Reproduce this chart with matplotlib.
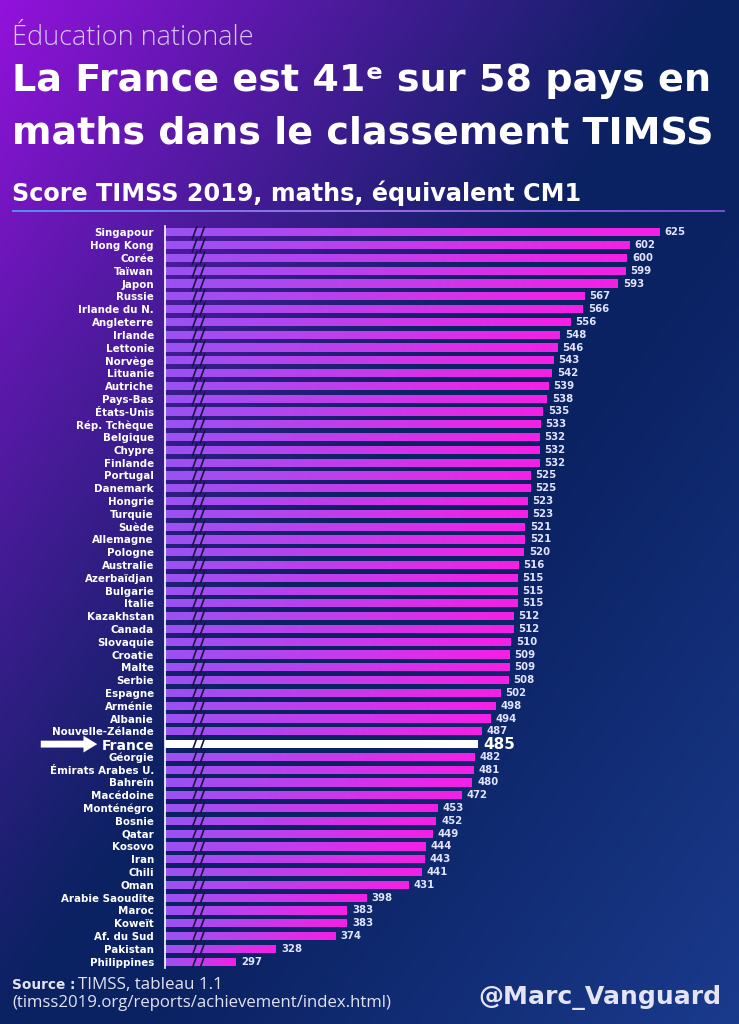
import numpy as np
import matplotlib.pyplot as plt
from matplotlib.colors import LinearSegmentedColormap, to_rgb

countries = ['Singapour', 'Hong Kong', 'Corée', 'Taïwan', 'Japon', 'Russie',
             'Irlande du N.', 'Angleterre', 'Irlande', 'Lettonie', 'Norvège',
             'Lituanie', 'Autriche', 'Pays-Bas', 'États-Unis', 'Rép. Tchèque',
             'Belgique', 'Chypre', 'Finlande', 'Portugal', 'Danemark', 'Hongrie',
             'Turquie', 'Suède', 'Allemagne', 'Pologne', 'Australie',
             'Azerbaïdjan', 'Bulgarie', 'Italie', 'Kazakhstan', 'Canada',
             'Slovaquie', 'Croatie', 'Malte', 'Serbie', 'Espagne', 'Arménie',
             'Albanie', 'Nouvelle-Zélande', 'France', 'Géorgie',
             'Émirats Arabes U.', 'Bahreïn', 'Macédoine', 'Monténégro', 'Bosnie',
             'Qatar', 'Kosovo', 'Iran', 'Chili', 'Oman', 'Arabie Saoudite',
             'Maroc', 'Koweït', 'Af. du Sud', 'Pakistan', 'Philippines']
scores = [625, 602, 600, 599, 593, 567, 566, 556, 548, 546, 543, 542, 539, 538,
          535, 533, 532, 532, 532, 525, 525, 523, 523, 521, 521, 520, 516, 515,
          515, 515, 512, 512, 510, 509, 509, 508, 502, 498, 494, 487, 485, 482,
          481, 480, 472, 453, 452, 449, 444, 443, 441, 431, 398, 383, 383, 374,
          328, 297]
highlight = 'France'

x0, x1 = 242, 687       # broken axis: bars start at x0
brk = [265, 271]        # position of the "//" marks

plt.rcParams['font.family'] = ['DejaVu Sans']

W, H = 739, 1024
fig = plt.figure(figsize=(W / 100, H / 100), dpi=100)
renderer = fig.canvas.get_renderer()


def fit(t, width_px):
    # scale a text so that it spans width_px pixels
    w = t.get_window_extent(renderer).width
    t.set_fontsize(t.get_fontsize() * width_px / w)
    return t


# background gradient
bg = fig.add_axes([0, 0, 1, 1])
bg.axis('off')
yy, xx = np.mgrid[0:1:300j, 0:1:220j]
p = np.clip(1 - (xx * 1.05 + yy * 1.0), 0, 1) ** 1.1
q = np.clip((xx + yy - 1.2) / 0.8, 0, 1)
navy = np.array(to_rgb('#0b2262'))
purple = np.array(to_rgb('#9312dc'))
blue = np.array(to_rgb('#1a3a8c'))
img = navy + p[..., None] * (purple - navy) + q[..., None] * (blue - navy)
bg.imshow(img, extent=[0, 1, 0, 1], aspect='auto', origin='upper')
# underline below subtitle
line_cm = LinearSegmentedColormap.from_list('ul', ['#4f8fe8', '#9a6ae6', '#7a4ad0'])
bg.imshow(np.linspace(0, 1, 200)[None, :], cmap=line_cm, aspect='auto',
          extent=[12 / W, 725 / W, 1 - 212 / H, 1 - 210 / H])
bg.set_xlim(0, 1)
bg.set_ylim(0, 1)

fit(fig.text(12 / W, 1 - 38 / H, 'Éducation nationale', fontsize=15,
             family=['Open Sans', 'DejaVu Sans'], fontweight='light',
             color='#d6c6f2', va='center', ha='left'), 243)
fit(fig.text(12 / W, 1 - 81 / H, 'La France est 41ᵉ sur 58 pays en', fontsize=30,
             fontweight='bold', color='white', va='center', ha='left'), 698)
fit(fig.text(12 / W, 1 - 134 / H, 'maths dans le classement TIMSS', fontsize=30,
             fontweight='bold', color='white', va='center', ha='left'), 700)
fit(fig.text(12 / W, 1 - 193 / H, 'Score TIMSS 2019, maths, équivalent CM1', fontsize=17,
             fontweight='bold', color='white', va='center', ha='left'), 570)

# bars
ax = fig.add_axes([165 / W, 1 - 968 / H, 1 - 165 / W, (968 - 226) / H])
ax.patch.set_alpha(0)
n = len(countries)
y = np.arange(n)
h = 0.64
bar_cm = LinearSegmentedColormap.from_list('bar', ['#9a52f2', '#c43cec', '#f51fe6'])
grad = np.linspace(0, 1, 100)[None, :]
vals = np.array(scores)
bars = ax.barh(y, vals - x0, left=x0, height=h, color='none', edgecolor='none')
for yi, s, c, b in zip(y, scores, countries, bars):
    if c == highlight:
        b.set_facecolor('white')
    else:
        im = ax.imshow(grad, cmap=bar_cm, aspect='auto',
                       extent=[x0, s, yi + h / 2, yi - h / 2], zorder=1)
        im.set_clip_path(b)
    for bx in brk:
        ax.plot([bx - 1.8, bx + 1.8], [yi + 0.5, yi - 0.5], color='#181447',
                lw=1.2, zorder=3)
    big = c == highlight
    ax.text(s + 4, yi, str(s), va='center', ha='left', color='white' if big else '#e2e4ff',
            fontsize=11 if big else 7.3, fontweight='bold')

ax.set_xlim(x0, x1)
ax.set_ylim(n - 0.5, -0.5)
ax.set_yticks(y, countries)
ax.set_xticks([])
ax.tick_params(axis='y', length=0, pad=8, labelcolor='white')
for lab in ax.get_yticklabels():
    if lab.get_text() == highlight:
        lab.set_fontsize(10)
    else:
        lab.set_fontsize(7.4)
    lab.set_fontweight('bold')
for side in ['top', 'right', 'bottom']:
    ax.spines[side].set_visible(False)
ax.spines['left'].set_color('white')
ax.spines['left'].set_linewidth(1.2)

fi = countries.index(highlight)
ax.annotate('', xy=(100 / W, fi), xytext=(38 / W, fi),
            xycoords=('figure fraction', 'data'), textcoords=('figure fraction', 'data'),
            arrowprops=dict(arrowstyle='simple,head_length=0.9,head_width=1.1,tail_width=0.45',
                            fc='white', ec='none', mutation_scale=11))

fit(fig.text(12 / W, 1 - 985 / H, 'Source :', fontsize=11, fontweight='bold',
             color='#e2e2f2', va='center', ha='left'), 63)
fit(fig.text(78 / W, 1 - 985 / H, 'TIMSS, tableau 1.1', fontsize=11,
             family=['Open Sans', 'DejaVu Sans'], color='#e2e2f2',
             va='center', ha='left'), 145)
fit(fig.text(12 / W, 1 - 1003 / H, '(timss2019.org/reports/achievement/index.html)',
             fontsize=11, family=['Open Sans', 'DejaVu Sans'],
             color='#e2e2f2', va='center', ha='left'), 380)
fit(fig.text(722 / W, 1 - 998 / H, '@Marc_Vanguard', fontsize=18, fontweight='bold',
             color='#e4e4f4', va='center', ha='right'), 244)

fig.savefig('out.png', dpi=100)
